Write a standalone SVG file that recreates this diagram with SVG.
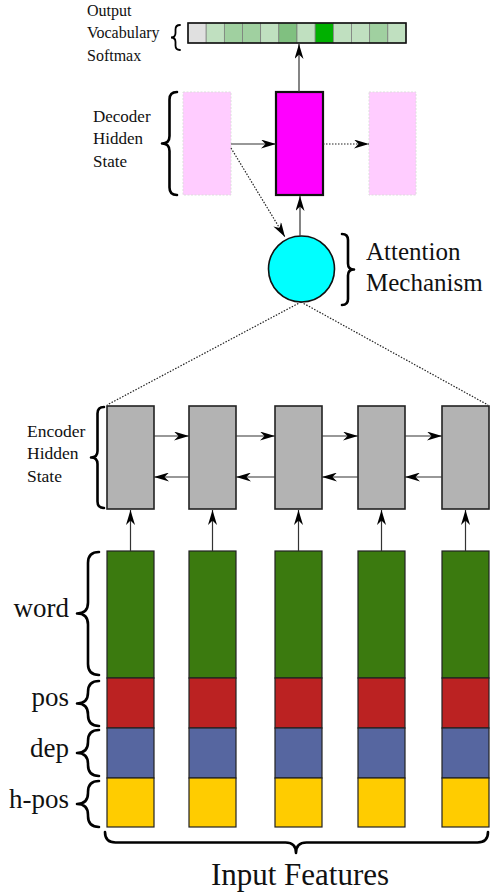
<svg xmlns="http://www.w3.org/2000/svg" width="494" height="894" viewBox="0 0 494 894">
<style>
text{font-family:"Liberation Serif","DejaVu Serif",serif;fill:#111}
.brace{fill:none;stroke:#000;stroke-width:2.6;stroke-linecap:round;stroke-linejoin:round}
.sbrace{fill:none;stroke:#000;stroke-width:1.8;stroke-linecap:round}
.ln{fill:none;stroke:#333;stroke-width:1.2}
.dot{fill:none;stroke:#222;stroke-width:1.2;stroke-dasharray:1.5 1.5}
.enc{fill:#b3b3b3;stroke:#222;stroke-width:1.6}
.pink{fill:#ffccff;stroke:#ddd;stroke-width:1;stroke-dasharray:2 1.5}
.cell{stroke:#777;stroke-width:0.7}
.feat{stroke:#222;stroke-width:1.2}
</style>
<defs>
<marker id="ah" viewBox="0 0 15 9" refX="15" refY="4.5" markerWidth="15" markerHeight="9" orient="auto" markerUnits="userSpaceOnUse">
<path d="M0,0 L15,4.5 L0,9 L4.5,4.5 z" fill="#000"/>
</marker>
</defs>

<g id="vocab">
<rect class="cell" x="188" y="23" width="18.17" height="20" fill="#e0e0e0"/>
<rect class="cell" x="206.17" y="23" width="18.17" height="20" fill="#c0e0c0"/>
<rect class="cell" x="224.33" y="23" width="18.17" height="20" fill="#a0d0a0"/>
<rect class="cell" x="242.5" y="23" width="18.17" height="20" fill="#a0d0a0"/>
<rect class="cell" x="260.67" y="23" width="18.17" height="20" fill="#c0e0c0"/>
<rect class="cell" x="278.83" y="23" width="18.17" height="20" fill="#80c080"/>
<rect class="cell" x="297" y="23" width="18.17" height="20" fill="#c0e0c0"/>
<rect class="cell" x="315.17" y="23" width="18.17" height="20" fill="#00b000"/>
<rect class="cell" x="333.33" y="23" width="18.17" height="20" fill="#c0e0c0"/>
<rect class="cell" x="351.5" y="23" width="18.17" height="20" fill="#c0e0c0"/>
<rect class="cell" x="369.67" y="23" width="18.17" height="20" fill="#a0d0a0"/>
<rect class="cell" x="387.83" y="23" width="18.17" height="20" fill="#c0e0c0"/>
<rect x="188" y="23" width="218" height="20" fill="none" stroke="#111" stroke-width="1.6"/>
<path class="sbrace" d="M180,25 Q175.5,25 175.5,29.5 L175.5,33 Q175.5,37.5 171,37.5 Q175.5,37.5 175.5,42 L175.5,45.5 Q175.5,50 180,50"/>
<text x="87" y="16" font-size="16">Output</text>
<text x="87" y="38" font-size="16">Vocabulary</text>
<text x="87" y="61" font-size="16">Softmax</text>
</g>

<g id="decoder-prev">
<rect class="pink" x="183" y="92" width="48" height="103"/>
</g>
<g id="decoder">
<rect x="276" y="92" width="47" height="103" fill="#ff00ff" stroke="#111" stroke-width="2.2"/>
<path class="brace" d="M177,92 Q169.5,92 169.5,99.5 L169.5,136 Q169.5,143.5 162,143.5 Q169.5,143.5 169.5,151 L169.5,187.5 Q169.5,195 177,195"/>
<text x="93" y="122" font-size="17">Decoder</text>
<text x="93" y="144" font-size="17">Hidden</text>
<text x="93" y="167" font-size="17">State</text>
</g>
<g id="decoder-next">
<rect class="pink" x="369" y="92" width="47" height="103"/>
</g>

<g id="attention">
<circle cx="301.5" cy="269" r="33" fill="#00ffff" stroke="#111" stroke-width="1.6"/>
<path class="brace" d="M342,234 Q348,234 348,240 L348,263.5 Q348,269.5 354,269.5 Q348,269.5 348,275.5 L348,299 Q348,305 342,305"/>
<text x="366" y="260" font-size="25">Attention</text>
<text x="366" y="291" font-size="25">Mechanism</text>
</g>

<g id="encoder">
<rect class="enc" x="107" y="406" width="47" height="103"/>
<rect class="enc" x="189" y="406" width="47" height="103"/>
<rect class="enc" x="275" y="406" width="47" height="103"/>
<rect class="enc" x="358" y="406" width="47" height="103"/>
<rect class="enc" x="442" y="406" width="47" height="103"/>
<path class="brace" d="M104,407 Q97.5,407 97.5,413.5 L97.5,451 Q97.5,457.5 91,457.5 Q97.5,457.5 97.5,464 L97.5,501.5 Q97.5,508 104,508"/>
<text x="27" y="437" font-size="17.5">Encoder</text>
<text x="27" y="459" font-size="17.5">Hidden</text>
<text x="27" y="482" font-size="17.5">State</text>
</g>

<g id="features">
<g class="feat">
<rect x="107" y="551" width="47" height="127" fill="#3b7a0f"/>
<rect x="107" y="678" width="47" height="50" fill="#bb2222"/>
<rect x="107" y="728" width="47" height="50" fill="#5666a0"/>
<rect x="107" y="778" width="47" height="49" fill="#ffcc00"/>
<rect x="189" y="551" width="47" height="127" fill="#3b7a0f"/>
<rect x="189" y="678" width="47" height="50" fill="#bb2222"/>
<rect x="189" y="728" width="47" height="50" fill="#5666a0"/>
<rect x="189" y="778" width="47" height="49" fill="#ffcc00"/>
<rect x="275" y="551" width="47" height="127" fill="#3b7a0f"/>
<rect x="275" y="678" width="47" height="50" fill="#bb2222"/>
<rect x="275" y="728" width="47" height="50" fill="#5666a0"/>
<rect x="275" y="778" width="47" height="49" fill="#ffcc00"/>
<rect x="358" y="551" width="47" height="127" fill="#3b7a0f"/>
<rect x="358" y="678" width="47" height="50" fill="#bb2222"/>
<rect x="358" y="728" width="47" height="50" fill="#5666a0"/>
<rect x="358" y="778" width="47" height="49" fill="#ffcc00"/>
<rect x="442" y="551" width="47" height="127" fill="#3b7a0f"/>
<rect x="442" y="678" width="47" height="50" fill="#bb2222"/>
<rect x="442" y="728" width="47" height="50" fill="#5666a0"/>
<rect x="442" y="778" width="47" height="49" fill="#ffcc00"/>
</g>
<path class="brace" d="M99,552 Q88,552 88,563 L88,602.5 Q88,613.5 77,613.5 Q88,613.5 88,624.5 L88,664 Q88,675 99,675"/>
<path class="brace" d="M99,681 Q88,681 88,692 L88,692.5 Q88,703.5 77,703.5 Q88,703.5 88,714.5 L88,715 Q88,726 99,726"/>
<path class="brace" d="M99,730 Q88,730 88,741 L88,742 Q88,753 77,753 Q88,753 88,764 L88,765 Q88,776 99,776"/>
<path class="brace" d="M99,781 Q88,781 88,792 L88,793 Q88,804 77,804 Q88,804 88,815 L88,816 Q88,827 99,827"/>
<path class="brace" d="M105,832 Q105,842.5 115.5,842.5 L285.5,842.5 Q296,842.5 296,853 Q296,842.5 306.5,842.5 L477.5,842.5 Q488,842.5 488,832"/>
<text x="69" y="617" font-size="27" text-anchor="end">word</text>
<text x="69" y="706" font-size="27" text-anchor="end">pos</text>
<text x="69" y="757" font-size="27" text-anchor="end">dep</text>
<text x="69" y="808" font-size="27" text-anchor="end">h-pos</text>
<text x="300" y="885" font-size="31" text-anchor="middle">Input Features</text>
</g>

<g id="connectors">
<line class="ln" x1="299" y1="92" x2="299" y2="44" marker-end="url(#ah)"/>
<line class="ln" x1="231" y1="144" x2="276" y2="144" marker-end="url(#ah)"/>
<line class="dot" x1="323" y1="144" x2="369" y2="144" marker-end="url(#ah)"/>
<line class="dot" x1="231" y1="148" x2="285" y2="237" marker-end="url(#ah)"/>
<line class="ln" x1="300" y1="236" x2="300" y2="196" marker-end="url(#ah)"/>
<line class="dot" x1="301" y1="302" x2="107" y2="405"/>
<line class="dot" x1="301" y1="302" x2="488" y2="405"/>
<line class="ln" x1="154" y1="436" x2="189" y2="436" marker-end="url(#ah)"/>
<line class="ln" x1="236" y1="436" x2="275" y2="436" marker-end="url(#ah)"/>
<line class="ln" x1="322" y1="436" x2="358" y2="436" marker-end="url(#ah)"/>
<line class="ln" x1="405" y1="436" x2="442" y2="436" marker-end="url(#ah)"/>
<line class="ln" x1="189" y1="477" x2="154" y2="477" marker-end="url(#ah)"/>
<line class="ln" x1="275" y1="477" x2="236" y2="477" marker-end="url(#ah)"/>
<line class="ln" x1="358" y1="477" x2="322" y2="477" marker-end="url(#ah)"/>
<line class="ln" x1="442" y1="477" x2="405" y2="477" marker-end="url(#ah)"/>
<line class="ln" x1="130.5" y1="551" x2="130.5" y2="510" marker-end="url(#ah)"/>
<line class="ln" x1="212.5" y1="551" x2="212.5" y2="510" marker-end="url(#ah)"/>
<line class="ln" x1="298.5" y1="551" x2="298.5" y2="510" marker-end="url(#ah)"/>
<line class="ln" x1="381.5" y1="551" x2="381.5" y2="510" marker-end="url(#ah)"/>
<line class="ln" x1="465.5" y1="551" x2="465.5" y2="510" marker-end="url(#ah)"/>
</g>
</svg>
